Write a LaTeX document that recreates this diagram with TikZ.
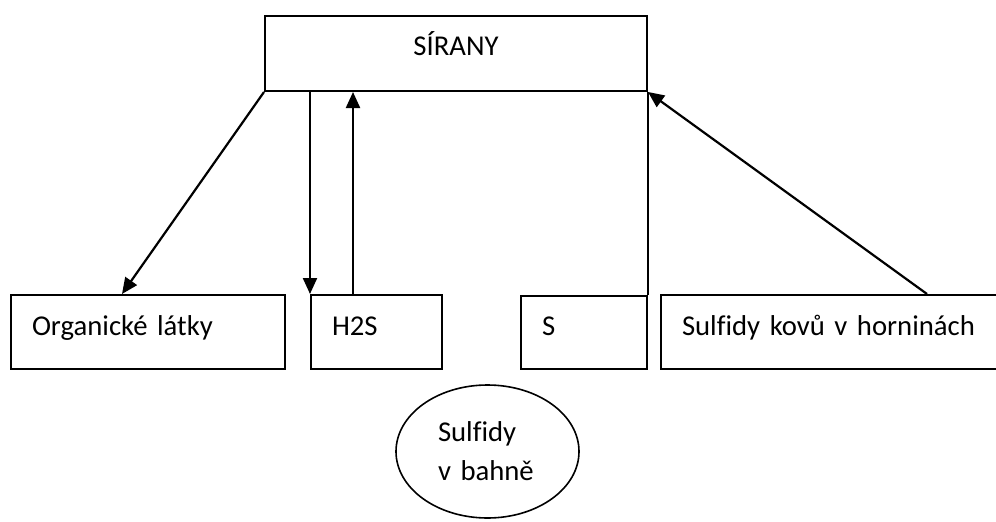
\documentclass[tikz,border=0pt]{standalone}
\usepackage{fontspec}
\setmainfont{Carlito}[Ligatures=CommonOff]
\usetikzlibrary{arrows.meta,shapes.geometric,calc}
\begin{document}
\begin{tikzpicture}[x=1pt,y=-1pt,
  every node/.style={font=\fontsize{28.7pt}{39pt}\selectfont},
  box/.style={draw, line width=2pt, rectangle, inner xsep=21pt, inner ysep=0pt,
    text width=#1-42pt, minimum width=#1, minimum height=74pt, align=left,
    text height=20pt, text depth=14pt},
  conn/.style={line width=2.2pt},
  arr/.style={conn, -{Triangle[length=16pt,width=14pt]}}]
\useasboundingbox (0,0) rectangle (996,522);
\clip (0,0) rectangle (996,522);
\node[draw, line width=2pt, inner sep=0pt, minimum width=382pt, minimum height=75pt,
  text width=340pt, align=center, text height=20pt, text depth=17pt] (top) at (456,53.5) {SÍRANY};
\node[box=274pt] (org) at (148,332) {Organické látky};
\node[box=131pt] (h2s) at (376.5,332) {H2S};
\node[box=126pt, minimum height=73pt] (s) at (584,332.5) {S};
\node[box=359pt] (sk) at (840.5,332) {Sulfidy kovů v horninách};
\node[draw, line width=1.6pt, ellipse, inner sep=0pt, minimum width=183pt, minimum height=133pt,
  text width=99pt, align=left] (sb) at (487.5,451.5) {Sulfidy\\v~bahně};
\coordinate (orgtip) at ($(org.north west)+(112,0)$);
\coordinate (uptail) at ($(h2s.north west)+(43,0)$);
\coordinate (sktail) at ($(sk.north west)+(267,0)$);
\draw[arr] (top.south west) -- (orgtip);
\draw[arr] (h2s.north west |- top.south) -- (h2s.north west);
\draw[arr] (uptail) -- (uptail |- top.south);
\draw[conn] (top.south east) -- (s.north east);
\draw[arr] (sktail) -- (top.south east);
\end{tikzpicture}
\end{document}
